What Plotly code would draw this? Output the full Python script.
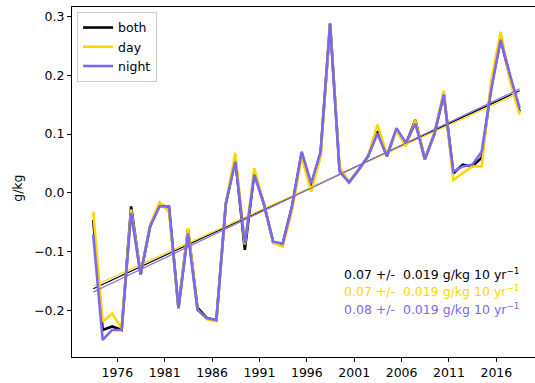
import numpy as np
import plotly.graph_objects as go

years = list(range(1973, 2019))

both = [-0.046, -0.233, -0.227, -0.233, -0.023, -0.139, -0.057, -0.020, -0.025, -0.196,
        -0.062, -0.195, -0.213, -0.216, -0.018, 0.058, -0.097, 0.034, -0.018, -0.085,
        -0.087, -0.022, 0.068, 0.012, 0.068, 0.288, 0.040, 0.018, 0.039, 0.062,
        0.105, 0.063, 0.108, 0.083, 0.124, 0.057, 0.100, 0.168, 0.033, 0.048,
        0.045, 0.060, 0.180, 0.262, 0.195, 0.138]

day = [-0.032, -0.219, -0.205, -0.230, -0.028, -0.139, -0.055, -0.016, -0.032, -0.196,
       -0.060, -0.198, -0.215, -0.218, -0.018, 0.068, -0.088, 0.042, -0.018, -0.085,
       -0.091, -0.029, 0.062, 0.002, 0.062, 0.288, 0.045, 0.018, 0.039, 0.062,
       0.116, 0.065, 0.105, 0.079, 0.123, 0.057, 0.100, 0.174, 0.022, 0.033,
       0.045, 0.045, 0.190, 0.274, 0.190, 0.133]

night = [-0.071, -0.250, -0.233, -0.233, -0.034, -0.139, -0.057, -0.023, -0.023, -0.196,
         -0.069, -0.199, -0.213, -0.216, -0.018, 0.053, -0.086, 0.031, -0.018, -0.083,
         -0.086, -0.022, 0.070, 0.016, 0.070, 0.288, 0.036, 0.018, 0.039, 0.062,
         0.101, 0.062, 0.110, 0.085, 0.118, 0.057, 0.100, 0.167, 0.036, 0.045,
         0.048, 0.070, 0.175, 0.260, 0.200, 0.144]

series_names = ["both", "day", "night"]
series_colors = ["#000000", "#FFD700", "#7B68EE"]
trend_texts = ["0.07 +/-\u00a0 0.019 g/kg 10 yr<sup>\u22121</sup>",
               "0.07 +/-\u00a0 0.019 g/kg 10 yr<sup>\u22121</sup>",
               "0.08 +/-\u00a0 0.019 g/kg 10 yr<sup>\u22121</sup>"]

dates = [f"{y}-06-15" for y in years]
yr = np.array(years, dtype=float) + 0.45

FONT = "DejaVu Sans"
fig = go.Figure()

for name, vals, col in zip(series_names, [both, day, night], series_colors):
    fig.add_trace(go.Scatter(x=dates, y=vals, mode="lines", name=name,
                             line=dict(color=col, width=2.6)))
    p = np.polyfit(yr, np.array(vals), 1)
    fig.add_trace(go.Scatter(x=[dates[0], dates[-1]], y=list(np.polyval(p, [yr[0], yr[-1]])),
                             mode="lines", showlegend=False,
                             line=dict(color=col, width=1.2)))

ys = [0.237, 0.188, 0.137]
for t, col, yy in zip(trend_texts, series_colors, ys):
    fig.add_annotation(x=0.583, y=yy, xref="paper", yref="paper", text=t,
                       showarrow=False, xanchor="left", yanchor="middle",
                       font=dict(family=FONT, size=12.5, color=col))

fig.add_annotation(x=-0.117, y=0.483, xref="paper", yref="paper", text="g/kg",
                   showarrow=False, textangle=-90, xanchor="center", yanchor="middle",
                   font=dict(family=FONT, size=12.5, color="black"))

fig.update_layout(
    width=535, height=383,
    margin=dict(l=72, r=0, t=7, b=26),
    paper_bgcolor="white", plot_bgcolor="white",
    font=dict(family=FONT, size=12.5, color="black"),
    showlegend=True,
    legend=dict(x=0.011, y=0.986, xanchor="left", yanchor="top",
                bgcolor="rgba(255,255,255,0.8)", bordercolor="#cccccc", borderwidth=1,
                font=dict(family=FONT, size=12.5), itemwidth=30, tracegroupgap=0),
)
fig.update_xaxes(type="date", range=["1971-03-20", "2020-01-30"],
                 tick0="1976-01-01", dtick="M60", tickformat="%Y",
                 showline=True, linecolor="black", linewidth=1, mirror=True,
                 ticks="outside", ticklen=4, tickcolor="black", showgrid=False,
                 zeroline=False)
fig.update_yaxes(range=[-0.279, 0.316], tick0=0, dtick=0.1, tickformat=".1f",
                 showline=True, linecolor="black", linewidth=1,
                 ticks="outside", ticklen=4, tickcolor="black", showgrid=False,
                 zeroline=False)

fig.write_html("out.html")
